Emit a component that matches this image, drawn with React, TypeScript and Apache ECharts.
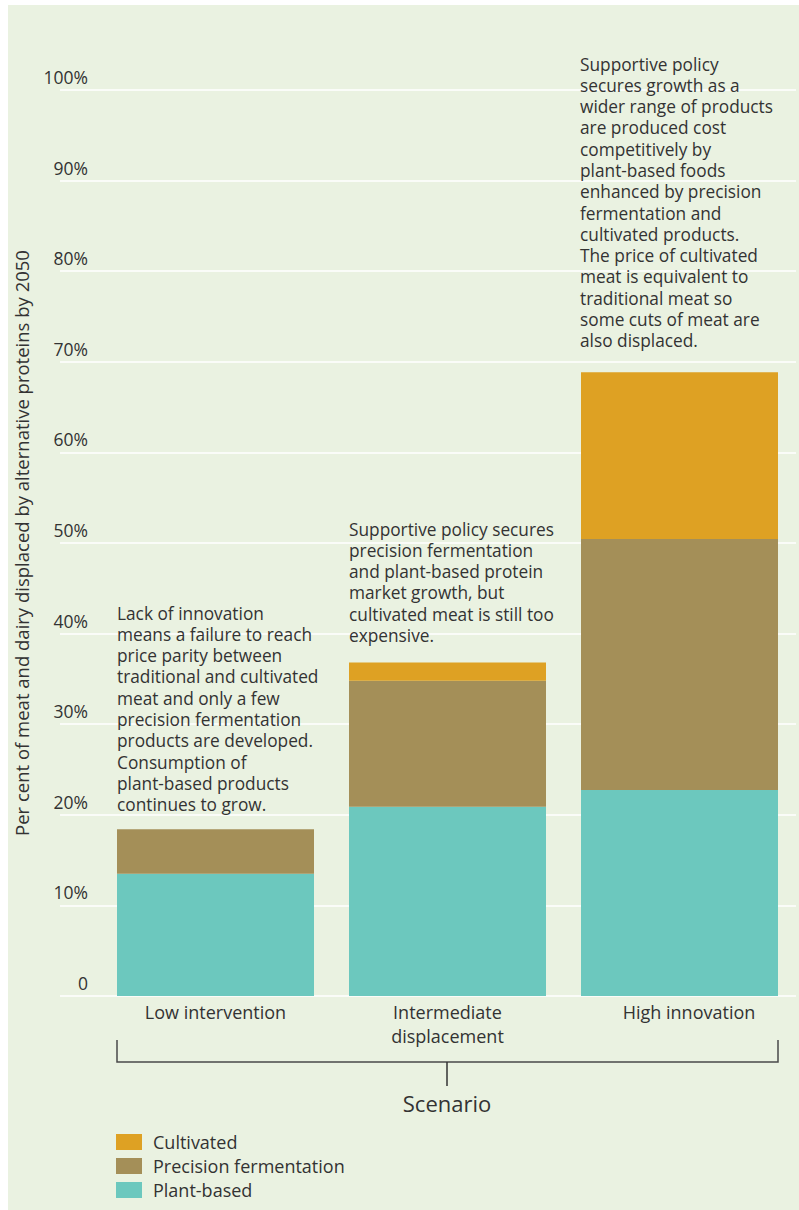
import React, { useEffect, useRef } from "react";
import * as echarts from "echarts";

const categories = ["Low intervention", "Intermediate\ndisplacement", "High innovation"];
const seriesNames = ["Plant-based", "Precision fermentation", "Cultivated"];
const plantBased = [13.5, 20.9, 22.75];
const precisionFermentation = [4.9, 13.9, 27.7];
const cultivated = [0, 2.0, 18.4];
const colors = ["#6cc8be", "#a48f58", "#dea123"];
const yAxisTitle = "Per cent of meat and dairy displaced by alternative proteins by 2050";
const xAxisTitle = "Scenario";

const noteLow = [
  "Lack of innovation",
  "means a failure to reach",
  "price parity between",
  "traditional and cultivated",
  "meat and only a few",
  "precision fermentation",
  "products are developed.",
  "Consumption of",
  "plant-based products",
  "continues to grow.",
];
const noteMid = [
  "Supportive policy secures",
  "precision fermentation",
  "and plant-based protein",
  "market growth, but",
  "cultivated meat is still too",
  "expensive.",
];
const noteHigh = [
  "Supportive policy",
  "secures growth as a",
  "wider range of products",
  "are produced cost",
  "competitively by",
  "plant-based foods",
  "enhanced by precision",
  "fermentation and",
  "cultivated products.",
  "The price of cultivated",
  "meat is equivalent to",
  "traditional meat so",
  "some cuts of meat are",
  "also displaced.",
];

const FONT = "'Open Sans', 'Noto Sans', sans-serif";
const TEXT = "#333333";
const LH = 21.3;

export default function App() {
  const ref = useRef<HTMLDivElement>(null);
  useEffect(() => {
    if (!ref.current) return;
    const chart = echarts.init(ref.current, null, { renderer: "svg" });
    const note = (lines: string[], x: number, yCenterFirst: number) => ({
      type: "text",
      x,
      y: yCenterFirst - LH / 2,
      z: 10,
      style: {
        text: lines.join("\n"),
        fill: TEXT,
        font: `17.3px ${FONT}`,
        lineHeight: LH,
        verticalAlign: "top",
        align: "left",
      },
    });
    chart.setOption({
      animation: false,
      backgroundColor: "transparent",
      textStyle: { fontFamily: FONT },
      grid: [
        { left: 60, top: 90, width: 736, height: 906 },
        { left: 99.5, top: 90, width: 696, height: 906 },
      ],
      xAxis: [
        { gridIndex: 0, type: "value", show: false, min: 0, max: 1 },
        {
          gridIndex: 1,
          type: "category",
          data: categories.map((c, i) =>
            i === 2 ? { value: c, textStyle: { padding: [0, 0, 0, 19] } } : c
          ),
          axisLine: { show: false },
          axisTick: { show: false },
          axisLabel: {
            color: TEXT,
            fontSize: 18,
            fontFamily: FONT,
            lineHeight: 24,
            margin: 4,
            interval: 0,
          },
        },
      ],
      yAxis: [
        {
          gridIndex: 0,
          type: "value",
          min: 0,
          max: 100,
          interval: 10,
          name: yAxisTitle,
          nameLocation: "middle",
          nameRotate: 90,
          nameGap: 29,
          nameTextStyle: { color: TEXT, fontSize: 18.5, fontFamily: FONT },
          axisLine: { show: false },
          axisTick: { show: false },
          splitLine: { show: true, lineStyle: { color: "#ffffff", width: 1.5 } },
          axisLabel: {
            color: TEXT,
            fontSize: 17.5,
            fontFamily: FONT,
            margin: -28,
            align: "right",
            verticalAlign: "bottom",
            padding: [0, 0, 4, 0],
            formatter: (v: number) => (v === 0 ? "0" : `${v}%`),
          },
        },
        {
          gridIndex: 1,
          type: "value",
          min: 0,
          max: 100,
          interval: 10,
          show: false,
          splitLine: { show: false },
        },
      ],
      legend: {
        data: [seriesNames[2], seriesNames[1], seriesNames[0]],
        orient: "vertical",
        left: 116,
        top: 1133,
        padding: 0,
        itemWidth: 26,
        itemHeight: 16,
        itemGap: 6,
        icon: "rect",
        selectedMode: false,
        textStyle: {
          color: TEXT,
          fontSize: 18,
          fontFamily: FONT,
          padding: [0, 0, 0, 6],
        },
      },
      series: [plantBased, precisionFermentation, cultivated].map((d, i) => ({
        type: "bar",
        name: seriesNames[i],
        xAxisIndex: 1,
        yAxisIndex: 1,
        stack: "total",
        barWidth: 197,
        data: d,
        itemStyle: { color: colors[i] },
      })),
      graphic: [
        {
          type: "rect",
          z: -10,
          shape: { x: 8, y: 5, width: 791, height: 1205 },
          style: { fill: "#eaf2e1" },
        },
        note(noteLow, 117, 613),
        note(noteMid, 349, 529),
        note(noteHigh, 580, 64),
        {
          type: "polyline",
          shape: { points: [[117, 1040], [117, 1062], [778, 1062], [778, 1040]] },
          style: { stroke: "#4a4a4a", lineWidth: 1.5, fill: null },
        },
        {
          type: "line",
          shape: { x1: 447, y1: 1062, x2: 447, y2: 1086 },
          style: { stroke: "#333", lineWidth: 1.5 },
        },
        {
          type: "text",
          x: 447,
          y: 1103,
          style: {
            text: xAxisTitle,
            fill: TEXT,
            font: `22px ${FONT}`,
            align: "center",
            verticalAlign: "middle",
          },
        },
      ],
    });
    return () => chart.dispose();
  }, []);
  return (
    <div
      ref={ref}
      style={{ position: "absolute", left: 0, top: 0, width: 799, height: 1210, background: "#ffffff" }}
    />
  );
}
